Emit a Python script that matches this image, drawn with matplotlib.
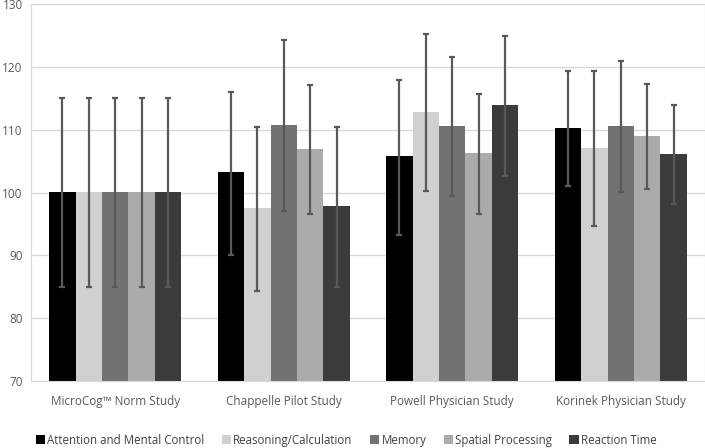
import matplotlib
matplotlib.use("Agg")
import matplotlib.pyplot as plt
import numpy as np

plt.rcParams['font.family'] = ['Open Sans', 'DejaVu Sans']

categories = ["MicroCog™ Norm Study", "Chappelle Pilot Study", "Powell Physician Study", "Korinek Physician Study"]
series_names = ["Attention and Mental Control", "Reasoning/Calculation", "Memory", "Spatial Processing", "Reaction Time"]

attention = [100.1, 103.2, 105.8, 110.3]
reasoning = [100.1, 97.5, 112.8, 107.1]
memory = [100.1, 110.8, 110.6, 110.6]
spatial = [100.1, 106.9, 106.3, 109.0]
reaction = [100.1, 97.9, 113.9, 106.1]

attention_lo = [85.0, 90.1, 93.3, 101.0]
attention_hi = [115.0, 116.0, 117.9, 119.3]
reasoning_lo = [85.0, 84.4, 100.2, 94.6]
reasoning_hi = [115.0, 110.4, 125.2, 119.3]
memory_lo = [85.0, 97.1, 99.4, 100.1]
memory_hi = [115.0, 124.3, 121.6, 121.0]
spatial_lo = [85.0, 96.5, 96.5, 100.6]
spatial_hi = [115.0, 117.1, 115.7, 117.2]
reaction_lo = [85.0, 85.0, 102.6, 98.1]
reaction_hi = [115.0, 110.4, 124.9, 113.9]

yticks = [70, 80, 90, 100, 110, 120, 130]

values = [attention, reasoning, memory, spatial, reaction]
lows = [attention_lo, reasoning_lo, memory_lo, spatial_lo, reaction_lo]
highs = [attention_hi, reasoning_hi, memory_hi, spatial_hi, reaction_hi]
colors = ["#000000", "#d0d0d0", "#727272", "#ababab", "#3b3b3b"]

fig = plt.figure(figsize=(7.05, 4.48), dpi=100)
ax = fig.add_axes([31/705, 1-381/448, 674/705, 377/448])

x = np.arange(len(categories))
width = 0.786 / 5
for i, (vals, lo, hi, c, name) in enumerate(zip(values, lows, highs, colors, series_names)):
    pos = x - 0.786/2 + width*(i+0.5)
    v = np.array(vals)
    yerr = np.vstack([v - np.array(lo), np.array(hi) - v])
    ax.bar(pos, v - 70, width, bottom=70, color=c, label=name, zorder=2)
    ax.errorbar(pos, v, yerr=yerr, fmt='none', ecolor='#595959', elinewidth=1.6,
                capsize=2, capthick=1.6, zorder=3)

ax.set_ylim(70, 130)
ax.set_xlim(-0.5, len(categories) - 0.5)
ax.set_yticks(yticks)
ax.set_xticks(x)
ax.set_xticklabels(categories)
ax.yaxis.grid(True, color='#d9d9d9', linewidth=1, zorder=0)
ax.set_axisbelow(True)
for s in ax.spines.values():
    s.set_color('#d9d9d9')
ax.tick_params(axis='both', length=0, colors='#595959', labelsize=8.5)
ax.tick_params(axis='x', pad=10)
ax.tick_params(axis='y', pad=6)

handles, labels = ax.get_legend_handles_labels()
fig.legend(handles, labels, loc='center', bbox_to_anchor=(0.491, 1-440/448), ncol=5,
           frameon=False, fontsize=8.3, handlelength=0.8, handleheight=0.8,
           handletextpad=0.2, columnspacing=1.5, labelcolor='#404040')

fig.savefig("out.png", dpi=100)
